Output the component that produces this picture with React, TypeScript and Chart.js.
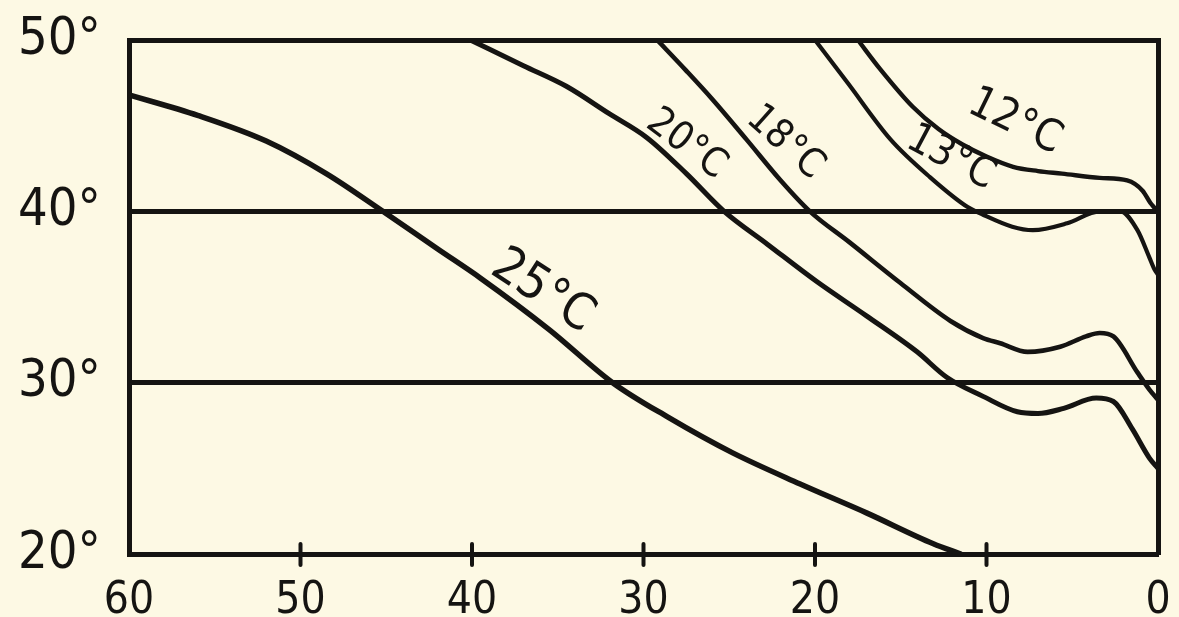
import { useEffect, useRef } from 'react';
import { Chart, registerables } from 'chart.js';

Chart.register(...registerables);

// Axis ticks (longitude along x, latitude along y)
const X_TICKS = [60, 50, 40, 30, 20, 10, 0];
const Y_TICKS = [20, 30, 40, 50];

// Isotherm curves: longitude (x) and latitude (y)
const LON_25 = [60, 56, 52, 48.5, 45.2, 42, 39.5, 35.5, 31.8, 28.6, 24.8, 20.9, 17, 13.1, 11.5];
const LAT_25 = [46.8, 45.6, 44.1, 42.2, 40, 37.8, 36.1, 33.1, 30, 28, 25.9, 24.1, 22.4, 20.6, 20];

const LON_20 = [40.1, 37, 34.5, 32, 29.8, 27.5, 25.3, 22.8, 19.9, 17, 14.05, 12.3, 10.2, 8.2, 7, 5.5, 3.6, 2.6, 1.5, 0.5, 0];
const LAT_20 = [50, 48.5, 47.3, 45.7, 44.3, 42.2, 40, 38.1, 35.9, 33.9, 31.8, 30.3, 29.2, 28.3, 28.2, 28.5, 29.1, 28.9, 27.3, 25.6, 25];

const LON_18 = [29.2, 27.5, 25.95, 24, 22, 20.3, 18, 15, 12.1, 10.2, 9.2, 7.6, 5.7, 4.2, 3.4, 2.6, 1.2, 0.5, 0];
const LAT_18 = [50, 48.2, 46.5, 44.2, 41.8, 40, 38.2, 35.8, 33.6, 32.6, 32.3, 31.8, 32.1, 32.7, 32.9, 32.7, 30.6, 29.6, 29.0];

const LON_13 = [20, 18.1, 15.6, 13.3, 11.1, 10.2, 8.5, 7.3, 5.3, 3.4, 2.2, 1.2, 0.5, 0.2, 0];
const LAT_13 = [50, 47.5, 44.2, 42, 40.25, 39.8, 39.1, 38.9, 39.3, 40, 40, 38.9, 37.3, 36.6, 36.3];

const LON_12 = [17.5, 16.2, 14.3, 12.8, 11.4, 10, 8.45, 7, 5.6, 3.4, 1.8, 0.9, 0.45, 0.2];
const LAT_12 = [50, 48.3, 46.1, 44.8, 43.9, 43.2, 42.6, 42.35, 42.2, 41.95, 41.8, 41.2, 40.5, 40.2];

// Curve labels (text, anchor longitude, anchor latitude, angle in degrees)
const LABEL_TEXT = ['25°C', '20°C', '18°C', '13°C', '12°C'];
const LABEL_LON = [35.9, 27.5, 21.75, 12.1, 8.35];
const LABEL_LAT = [35.3, 43.9, 44.0, 43.1, 45.2];
const LABEL_ANGLE = [33, 37, 42, 28, 26];

const INK = '#151412';
const PAPER = '#fdf9e4';
const FONT = '"DejaVu Sans Condensed", "DejaVu Sans", sans-serif';

function pts(lons: number[], lats: number[]) {
  return lons.map((x, i) => ({ x, y: lats[i] }));
}

const tickMarks = {
  id: 'tickMarks',
  afterDraw(chart: any) {
    const { ctx, chartArea, scales } = chart;
    const x = scales.x;
    ctx.save();
    ctx.strokeStyle = INK;
    ctx.lineWidth = 4;
    ctx.lineCap = 'round';
    for (const v of X_TICKS) {
      if (v === 60 || v === 0) continue;
      const px = x.getPixelForValue(v);
      ctx.beginPath();
      ctx.moveTo(px, chartArea.bottom - 10);
      ctx.lineTo(px, chartArea.bottom + 11);
      ctx.stroke();
    }
    ctx.restore();
  },
};

const LABEL_SIZES = [50, 40, 40, 42, 44];

const curveLabels = {
  id: 'curveLabels',
  afterDatasetsDraw(chart: any) {
    const { ctx, scales } = chart;
    ctx.save();
    ctx.fillStyle = INK;
    ctx.textAlign = 'center';
    ctx.textBaseline = 'middle';
    LABEL_TEXT.forEach((t, i) => {
      const px = scales.x.getPixelForValue(LABEL_LON[i]);
      const py = scales.y.getPixelForValue(LABEL_LAT[i]);
      ctx.save();
      ctx.translate(px, py);
      ctx.rotate((LABEL_ANGLE[i] * Math.PI) / 180);
      ctx.font = `${LABEL_SIZES[i]}px ${FONT}`;
      ctx.fillText(t, 0, 0);
      ctx.restore();
    });
    ctx.restore();
  },
};

function noPad(s: any) {
  s.paddingTop = 0;
  s.paddingBottom = 0;
  s.paddingLeft = 0;
  s.paddingRight = 0;
}

export default function App() {
  const ref = useRef<HTMLCanvasElement | null>(null);

  useEffect(() => {
    if (!ref.current) return;
    const widths = [5.5, 5, 4.6, 4.2, 4.4];
    const series = [
      pts(LON_25, LAT_25),
      pts(LON_20, LAT_20),
      pts(LON_18, LAT_18),
      pts(LON_13, LAT_13),
      pts(LON_12, LAT_12),
    ];
    const chart = new Chart(ref.current, {
      type: 'line',
      data: {
        datasets: series.map((d, i) => ({
          label: LABEL_TEXT[i],
          data: d,
          borderColor: INK,
          borderWidth: widths[i],
          pointRadius: 0,
          cubicInterpolationMode: 'monotone',
          fill: false,
        })),
      },
      options: {
        responsive: false,
        animation: false,
        layout: { padding: { left: 0, right: 0, top: 40, bottom: 0 } },
        plugins: { legend: { display: false }, tooltip: { enabled: false } },
        elements: { line: { borderCapStyle: 'round', borderJoinStyle: 'round' } },
        scales: {
          x: {
            type: 'linear',
            min: 0,
            max: 60,
            reverse: true,
            position: 'bottom',
            afterBuildTicks: (s: any) => {
              s.ticks = X_TICKS.map((v) => ({ value: v }));
            },
            afterFit: (s: any) => {
              s.height = 63;
              noPad(s);
            },
            ticks: {
              color: INK,
              padding: 13,
              autoSkip: false,
              maxRotation: 0,
              font: { family: FONT, size: 44 },
              callback: (v: any) => String(v),
            },
            grid: { display: false },
            border: { display: true, width: 5, color: INK },
          },
          y: {
            type: 'linear',
            min: 20,
            max: 50,
            position: 'left',
            afterBuildTicks: (s: any) => {
              s.ticks = Y_TICKS.map((v) => ({ value: v }));
            },
            afterFit: (s: any) => {
              s.width = 129;
              noPad(s);
            },
            ticks: {
              color: INK,
              padding: 28,
              font: { family: FONT, size: 52 },
              callback: (v: any) => `${v}°`,
            },
            grid: { color: INK, lineWidth: 5, drawTicks: false },
            border: { display: true, width: 5, color: INK },
          },
          y2: {
            type: 'linear',
            min: 20,
            max: 50,
            position: 'right',
            afterFit: (s: any) => {
              s.width = 21;
              noPad(s);
            },
            ticks: { display: false },
            grid: { display: false },
            border: { display: true, width: 5, color: INK },
          },
        },
      } as any,
      plugins: [tickMarks, curveLabels],
    });
    return () => chart.destroy();
  }, []);

  return (
    <div style={{ position: 'fixed', left: 0, top: 0, width: 1179, height: 617, background: PAPER }}>
      <canvas ref={ref} width={1179} height={617} style={{ display: 'block' }} />
    </div>
  );
}
